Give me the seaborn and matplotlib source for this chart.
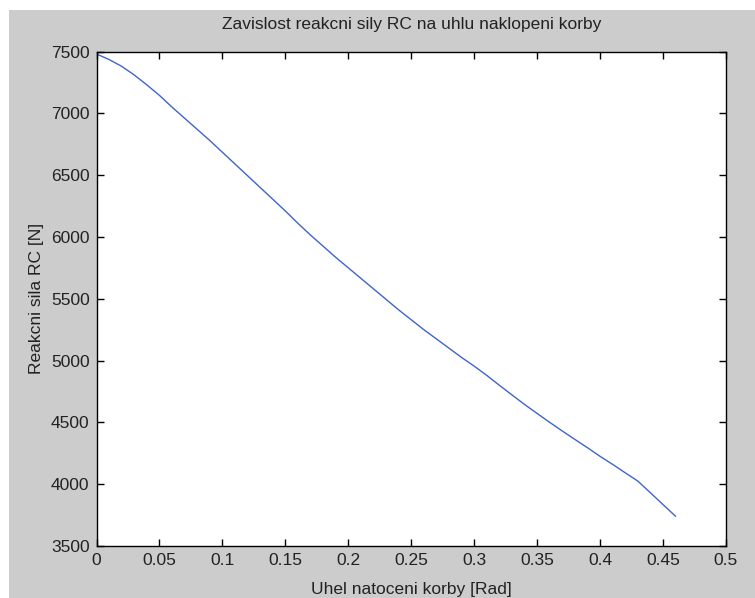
import numpy as np
import pandas as pd
import matplotlib
matplotlib.use("Agg")
import matplotlib.pyplot as plt
import seaborn as sns
from matplotlib.patches import Rectangle

# ---- data ----
uhel = [0.00, 0.01, 0.02, 0.03, 0.04, 0.05, 0.06, 0.07, 0.08, 0.09,
        0.10, 0.11, 0.12, 0.13, 0.14, 0.15, 0.16, 0.17, 0.18, 0.19,
        0.20, 0.21, 0.22, 0.23, 0.24, 0.25, 0.26, 0.27, 0.28, 0.29,
        0.30, 0.31, 0.32, 0.33, 0.34, 0.35, 0.36, 0.37, 0.38, 0.39,
        0.40, 0.41, 0.42, 0.43, 0.44, 0.45, 0.46]
sila_rc = [7480, 7435, 7380, 7310, 7230, 7145, 7050, 6960, 6870, 6780,
           6685, 6590, 6495, 6400, 6305, 6210, 6110, 6015, 5925, 5835,
           5750, 5665, 5580, 5495, 5410, 5330, 5250, 5175, 5100, 5025,
           4955, 4880, 4800, 4722, 4645, 4572, 4500, 4430, 4362, 4295,
           4225, 4160, 4092, 4025, 3930, 3835, 3740]
x_ticks = [0, 0.05, 0.1, 0.15, 0.2, 0.25, 0.3, 0.35, 0.4, 0.45, 0.5]
x_tick_labels = ["0", "0.05", "0.1", "0.15", "0.2", "0.25", "0.3", "0.35", "0.4", "0.45", "0.5"]
y_ticks = [3500, 4000, 4500, 5000, 5500, 6000, 6500, 7000, 7500]
y_tick_labels = ["3500", "4000", "4500", "5000", "5500", "6000", "6500", "7000", "7500"]

title = "Zavislost reakcni sily RC na uhlu naklopeni korby"
xlabel = "Uhel natoceni korby [Rad]"
ylabel = "Reakcni sila RC [N]"

df = pd.DataFrame({"uhel": uhel, "sila": sila_rc})

sns.set_theme(style="white")
plt.rcParams["font.family"] = ["Liberation Sans", "DejaVu Sans"]
plt.rcParams["font.size"] = 12.5

W, H = 755, 598
fig = plt.figure(figsize=(W / 100, H / 100), dpi=100)
fig.patch.set_facecolor("white")
# gray figure background (white strip at top and left in the reference)
fig.patches.append(Rectangle((9 / W, 0), 1, 1 - 10 / H, transform=fig.transFigure,
                             facecolor="#cccccc", edgecolor="none", zorder=-10))

ax = fig.add_axes([96.5 / W, 1 - 546 / H, (726 - 96.5) / W, (546 - 51.5) / H])
ax.set_facecolor("white")

sns.lineplot(data=df, x="uhel", y="sila", ax=ax, color="#4064c8", linewidth=1.0)

ax.set_xlim(0, 0.5)
ax.set_ylim(3500, 7500)
ax.set_xticks(x_ticks)
ax.set_xticklabels(x_tick_labels)
ax.set_yticks(y_ticks)
ax.set_yticklabels(y_tick_labels)

for s in ax.spines.values():
    s.set_visible(True)
    s.set_color("black")
    s.set_linewidth(1.0)

ax.tick_params(axis="both", which="major", direction="in", length=5, width=1,
               color="black", labelsize=12.5, labelcolor="#222222",
               top=True, right=True, bottom=True, left=True, pad=5)

ax.set_title(title, fontsize=12.5, color="#222222", pad=16)
ax.set_xlabel(xlabel, fontsize=12.5, color="#222222", labelpad=10)
ax.set_ylabel(ylabel, fontsize=12.5, color="#222222", labelpad=5)

fig.savefig("out.png", dpi=100, facecolor=fig.get_facecolor())
